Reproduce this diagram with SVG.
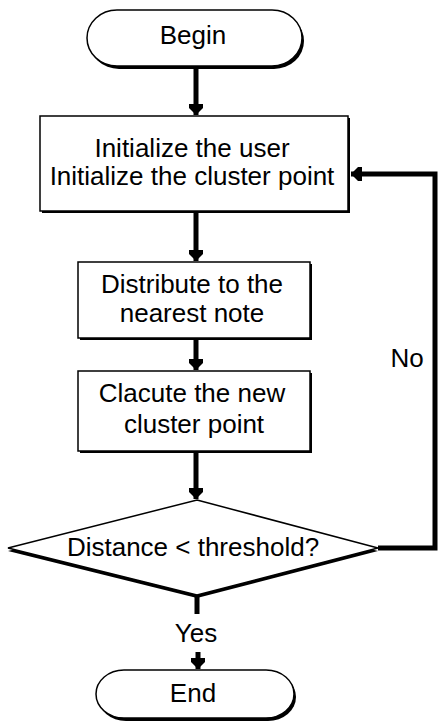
<svg xmlns="http://www.w3.org/2000/svg" width="438" height="723" viewBox="0 0 438 723">
<style>
.bg{fill:#fff}
.sh{fill:#000}
.shape{fill:#fff;stroke:#000;stroke-width:1.5}
.t{font-family:"Liberation Sans",Arial,sans-serif;font-size:26px;fill:#000;text-anchor:middle}
.c{fill:none;stroke:#000;stroke-width:5}
</style>
<defs>
<marker id="ah" markerUnits="userSpaceOnUse" markerWidth="16" markerHeight="16" viewBox="0 -8 12 16" refX="11" refY="0" orient="auto">
<path d="M0,-7 L4,-7 L11,0 L4,7 L0,7 Z" fill="#000"/>
</marker>
</defs>
<rect class="bg" x="0" y="0" width="438" height="723"/>
<g id="connectors">
<path class="c" d="M196,69 L196,115" marker-end="url(#ah)"/>
<path class="c" d="M196,213 L196,261" marker-end="url(#ah)"/>
<path class="c" d="M196,340 L196,370" marker-end="url(#ah)"/>
<path class="c" d="M196,453 L196,499" marker-end="url(#ah)"/>
<path class="c" d="M197,596 L197,614"/>
<path class="c" d="M198,652 L198,669" marker-end="url(#ah)"/>
<path class="c" d="M378,548 L435,548 L435,174 L351,174" marker-end="url(#ah)"/>
</g>
<g id="begin">
<rect class="sh" x="89" y="13" width="215" height="56" rx="30" ry="28"/>
<rect class="shape" x="87" y="10" width="215" height="56" rx="30" ry="28"/>
<text class="t" x="193" y="44">Begin</text>
</g>
<g id="init">
<rect class="sh" x="42" y="118" width="308" height="95"/>
<rect class="shape" x="40" y="116" width="308" height="95"/>
<text class="t" x="192" y="157">Initialize the user</text>
<text class="t" x="192" y="185">Initialize the cluster point</text>
</g>
<g id="distribute">
<rect class="sh" x="80" y="264" width="232" height="76"/>
<rect class="shape" x="78" y="262" width="232" height="76"/>
<text class="t" x="192" y="293">Distribute to the</text>
<text class="t" x="192" y="322">nearest note</text>
</g>
<g id="calc">
<rect class="sh" x="80" y="373" width="232" height="80"/>
<rect class="shape" x="78" y="371" width="232" height="80"/>
<text class="t" x="192" y="402">Clacute the new</text>
<text class="t" x="194" y="433">cluster point</text>
</g>
<g id="decision">
<polygon class="sh" points="197,503 378,551 197,598 8,551"/>
<polygon class="shape" points="197,500 378,548 197,595 8,548"/>
<text class="t" x="193" y="556">Distance &lt; threshold?</text>
</g>
<g id="labels">
<text class="t" x="407" y="367">No</text>
<text class="t" x="196" y="642">Yes</text>
</g>
<g id="end">
<rect class="sh" x="98" y="673" width="198" height="48" rx="28" ry="24"/>
<rect class="shape" x="96" y="670" width="198" height="48" rx="28" ry="24"/>
<text class="t" x="193" y="702">End</text>
</g>
</svg>
